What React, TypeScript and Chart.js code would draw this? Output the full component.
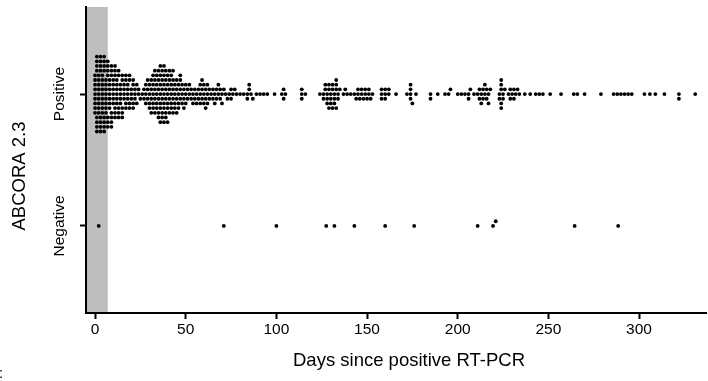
import React, { useEffect, useRef } from "react";
import { Chart, registerables } from "chart.js";

Chart.register(...registerables);

// ---------- data ----------
const categories = ["Negative", "Positive"]; // y = 0, y = 1
const xTicks = [0, 50, 100, 150, 200, 250, 300];
const xMin = -5;
const xMax = 337;
const shadeEnd = 7; // grey window (days)
const xTitle = "Days since positive RT-PCR";
const yTitle = "ABCORA 2.3";
const cornerMark = ":";

// Positive results: day and number of samples on that day
const posDays = [
  0, 1, 2, 3, 4, 5, 6, 7,
  8, 9, 10, 11, 12, 13, 14, 15, 16, 17, 18, 19, 20, 21, 22, 23, 24,
  25, 26, 27,
  28, 29, 30, 31, 32, 33, 34, 35, 36, 37, 38, 39, 40, 41, 42, 43, 44, 45, 46, 47, 48, 49, 50, 51, 52,
  53, 54, 55, 56, 57, 58, 59, 60, 61, 62, 63, 64, 65, 66, 67, 68, 69, 70, 71, 72,
  73, 74, 75, 76, 77, 78, 80, 82, 84, 85, 86, 87, 89, 91, 93, 95, 99, 103, 104, 105, 114, 116,
  124, 126, 127, 128, 129, 130, 131, 132, 133, 134, 135,
  137, 138, 139, 141,
  143, 144, 145, 146, 147, 148, 149, 150, 151, 152, 153,
  158, 160, 162, 166,
  172, 174, 175, 177,
  185, 189, 193, 195, 196,
  200, 202, 204, 206, 207, 209,
  211, 212, 213, 214, 215, 216, 217, 218,
  223, 224, 225, 226,
  228, 229, 230, 231, 232, 233, 234,
  237, 240, 243, 245, 247, 251, 257,
  264, 266, 270, 279,
  286, 288, 290, 292, 294, 296,
  303, 306, 309, 314, 322, 331,
];
const posCounts = [
  9, 8, 9, 8, 9, 8, 8, 7,
  7, 7, 6, 6, 6, 5, 5, 5, 4, 4, 4, 4, 3, 4, 3, 2, 2,
  1, 1, 2,
  3, 3, 4, 4, 5, 5, 5, 6, 7, 6, 7, 6, 6, 5, 5, 5, 4, 4, 4, 4, 3, 3, 3, 2, 2,
  2, 2, 2, 2, 2, 3, 3, 3, 3, 3, 2, 1, 2, 2, 2, 2, 2, 2, 1, 1,
  1, 1, 2, 1, 1, 1, 1, 1, 2, 2, 1, 1, 1, 1, 1, 1, 1, 1, 2, 1, 3, 1,
  1, 2, 2, 3, 3, 3, 3, 3, 4, 2, 1,
  1, 1, 1, 1,
  1, 1, 2, 1, 2, 1, 2, 1, 2, 1, 1,
  3, 3, 2, 1,
  1, 4, 1, 1,
  2, 1, 1, 1, 1,
  1, 1, 1, 2, 1, 1,
  1, 2, 2, 2, 2, 2, 2, 1,
  2, 5, 2, 1,
  1, 2, 1, 2, 1, 1, 1,
  1, 1, 1, 1, 1, 1, 1,
  1, 1, 1, 1,
  1, 1, 1, 1, 1, 1,
  1, 1, 1, 1, 2, 1,
];

// Negative results: one entry per sample
const negDays = [2, 71, 100, 127.5, 132, 143, 160, 176, 211, 219.5, 221, 264.5, 288.5];

// ---------- beeswarm layout (rows of dots around each category) ----------
const ROW_STEP = 0.0355; // vertical distance between dot rows, in category units
const MIN_DX = 2; // minimal horizontal gap (days) between dots in one row
const BALANCE_WIN = 4; // days looked at when choosing above / below

function swarm(days: number[], base: number) {
  const sorted = [...days].sort((a, b) => a - b);
  const rows = new Map<number, number[]>();
  const placed: { d: number; r: number }[] = [];
  const pts: { x: number; y: number }[] = [];
  let toggle = false;
  const free = (r: number, d: number) =>
    (rows.get(r) || []).every((v) => Math.abs(v - d) >= MIN_DX - 1e-9);
  for (const d of sorted) {
    let up = 0;
    while (!free(up, d)) up++;
    let down = 0;
    while (!free(-down, d)) down++;
    let r: number;
    if (up < down) r = up;
    else if (down < up) r = -down;
    else if (up === 0) r = 0;
    else {
      let nu = 0;
      let nd = 0;
      for (const p of placed) {
        if (Math.abs(p.d - d) <= BALANCE_WIN) {
          if (p.r > 0) nu++;
          else if (p.r < 0) nd++;
        }
      }
      if (nu < nd) r = up;
      else if (nd < nu) r = -down;
      else {
        r = toggle ? -down : up;
        toggle = !toggle;
      }
    }
    const list = rows.get(r) || [];
    list.push(d);
    rows.set(r, list);
    placed.push({ d, r });
    pts.push({ x: d, y: base + r * ROW_STEP });
  }
  return pts;
}

const FONT = '"Liberation Sans", Arial, Helvetica, sans-serif';

export default function App() {
  const ref = useRef<HTMLCanvasElement | null>(null);

  useEffect(() => {
    if (!ref.current) return;
    const posList: number[] = [];
    posDays.forEach((d, i) => {
      for (let j = 0; j < posCounts[i]; j++) posList.push(d);
    });
    const posPts = swarm(posList, 1);
    const negPts = swarm(negDays, 0);

    const decor = {
      id: "decor",
      beforeDraw(chart: any) {
        const { ctx, chartArea } = chart;
        const x = chart.scales.x;
        ctx.save();
        ctx.fillStyle = "#ffffff";
        ctx.fillRect(0, 0, chart.width, chart.height);
        ctx.fillStyle = "#bebebe";
        const xe = x.getPixelForValue(shadeEnd);
        ctx.fillRect(chartArea.left, chartArea.top, xe - chartArea.left, chartArea.bottom - chartArea.top);
        ctx.restore();
      },
      afterDraw(chart: any) {
        const { ctx } = chart;
        const y = chart.scales.y;
        ctx.save();
        ctx.fillStyle = "#000";
        ctx.textAlign = "center";
        ctx.textBaseline = "middle";
        ctx.font = `15.5px ${FONT}`;
        categories.forEach((c, i) => {
          const py = y.getPixelForValue(i);
          ctx.save();
          ctx.translate(60, py);
          ctx.rotate(-Math.PI / 2);
          ctx.fillText(c, 0, 0);
          ctx.restore();
        });
        ctx.font = `18.5px ${FONT}`;
        ctx.fillText(xTitle, 409, 361);
        ctx.save();
        ctx.translate(20, 176);
        ctx.rotate(-Math.PI / 2);
        ctx.fillText(yTitle, 0, 0);
        ctx.restore();
        ctx.textAlign = "left";
        ctx.font = `15px ${FONT}`;
        ctx.fillText(cornerMark, -1, 374);
        ctx.restore();
      },
    };

    const chart = new Chart(ref.current, {
      type: "scatter",
      data: {
        datasets: [
          { data: posPts, backgroundColor: "#000", borderWidth: 0, pointRadius: 1.9, pointHoverRadius: 1.9 },
          { data: negPts, backgroundColor: "#000", borderWidth: 0, pointRadius: 1.9, pointHoverRadius: 1.9 },
        ],
      },
      options: {
        animation: false,
        responsive: false,
        devicePixelRatio: 1,
        events: [],
        layout: { padding: { top: 7, left: 0, right: 0, bottom: 0 } },
        plugins: { legend: { display: false }, tooltip: { enabled: false } },
        scales: {
          x: {
            type: "linear",
            min: xMin,
            max: xMax,
            afterBuildTicks: (s: any) => {
              s.ticks = xTicks.map((v) => ({ value: v }));
            },
            afterFit: (s: any) => {
              s.height = 68;
            },
            grid: { display: true, drawOnChartArea: false, drawTicks: true, tickLength: 6, tickWidth: 2, tickColor: "#000" },
            border: { display: true, color: "#000", width: 2 },
            ticks: {
              color: "#000",
              font: { family: FONT, size: 15.5 },
              padding: 1,
              maxRotation: 0,
              minRotation: 0,
              callback: (v: any) => String(v),
            },
          },
          y: {
            type: "linear",
            min: -0.66,
            max: 1.66,
            afterBuildTicks: (s: any) => {
              s.ticks = [0, 1].map((v) => ({ value: v }));
            },
            afterFit: (s: any) => {
              s.width = 86;
            },
            grid: { display: true, drawOnChartArea: false, drawTicks: true, tickLength: 6, tickWidth: 2, tickColor: "#000" },
            border: { display: true, color: "#000", width: 2 },
            ticks: { display: false },
          },
        },
      },
      plugins: [decor],
    } as any);

    return () => chart.destroy();
  }, []);

  return (
    <canvas
      ref={ref}
      width={708}
      height={381}
      style={{ position: "fixed", left: 0, top: 0, width: 708, height: 381, display: "block" }}
    />
  );
}
